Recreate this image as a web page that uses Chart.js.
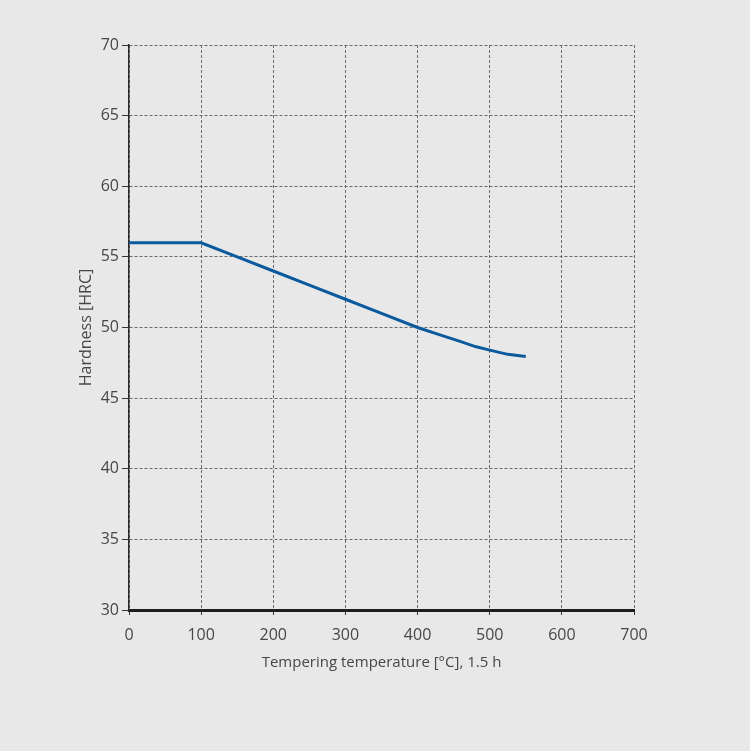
<!DOCTYPE html>
<html lang="en">
<head>
    <meta charset="UTF-8">
    <script src="https://cdn.jsdelivr.net/npm/chart.js"></script>
    <title>Tempering curve</title>
    <style>
        html, body {
            margin: 0;
            padding: 0;
            background: #e8e8e8;
        }
        #wrap {
            width: 750px;
            height: 751px;
        }
    </style>
</head>
<body>
    <div id="wrap"><canvas id="chart"></canvas></div>
    <script>
        // Hardness after tempering (1.5 h)
        const temperatures = [0, 100, 150, 200, 250, 300, 350, 400, 430, 460, 480, 500, 525, 550];
        const hardness = [56, 56, 55, 54, 53, 52, 51, 50, 49.5, 49.0, 48.65, 48.4, 48.1, 47.95];

        const xTicks = [0, 100, 200, 300, 400, 500, 600, 700];
        const yTicks = [30, 35, 40, 45, 50, 55, 60, 65, 70];

        const textColor = '#474747';
        const gridColor = '#6a6a6a';

        const ctx = document.getElementById('chart').getContext('2d');
        new Chart(ctx, {
            type: 'line',
            data: {
                datasets: [{
                    data: temperatures.map((t, i) => ({ x: t, y: hardness[i] })),
                    borderColor: '#0b5a9e',
                    borderWidth: 3,
                    pointRadius: 0,
                    tension: 0,
                    fill: false
                }]
            },
            options: {
                responsive: true,
                maintainAspectRatio: false,
                animation: false,
                layout: {
                    padding: { left: 70, top: 45, right: 116, bottom: 75 }
                },
                plugins: {
                    legend: { display: false },
                    tooltip: { enabled: false }
                },
                scales: {
                    x: {
                        type: 'linear',
                        min: 0,
                        max: 700,
                        afterBuildTicks: axis => { axis.ticks = xTicks.map(v => ({ value: v })); },
                        afterFit: axis => { axis.height = 66; },
                        // border.dash dashes the grid lines in v4, the axis line stays solid
                        border: { display: true, color: '#1e1e1e', width: 3, dash: [3, 2] },
                        grid: {
                            color: gridColor,
                            lineWidth: 1,
                            tickLength: 5,
                            tickBorderDash: [],
                            tickColor: '#333'
                        },
                        ticks: {
                            color: textColor,
                            font: { family: 'Open Sans', size: 16 },
                            padding: 11,
                            maxRotation: 0
                        },
                        title: {
                            display: true,
                            text: 'Tempering temperature [°C], 1.5 h',
                            color: textColor,
                            font: { family: 'Open Sans', size: 15 },
                            padding: { top: 5 }
                        }
                    },
                    y: {
                        min: 30,
                        max: 70,
                        afterBuildTicks: axis => { axis.ticks = yTicks.map(v => ({ value: v })); },
                        afterFit: axis => { axis.width = 59; },
                        border: { display: true, color: '#2a2a2a', width: 1.5, dash: [3, 2] },
                        grid: {
                            color: gridColor,
                            lineWidth: 1,
                            tickLength: 7,
                            tickBorderDash: [],
                            tickColor: '#333'
                        },
                        ticks: {
                            color: textColor,
                            font: { family: 'Open Sans', size: 16 },
                            padding: 3
                        },
                        title: {
                            display: true,
                            text: 'Hardness [HRC]',
                            color: textColor,
                            font: { family: 'Open Sans', size: 16 },
                            padding: { top: 7, bottom: 4 }
                        }
                    }
                }
            }
        });
    </script>
</body>
</html>
